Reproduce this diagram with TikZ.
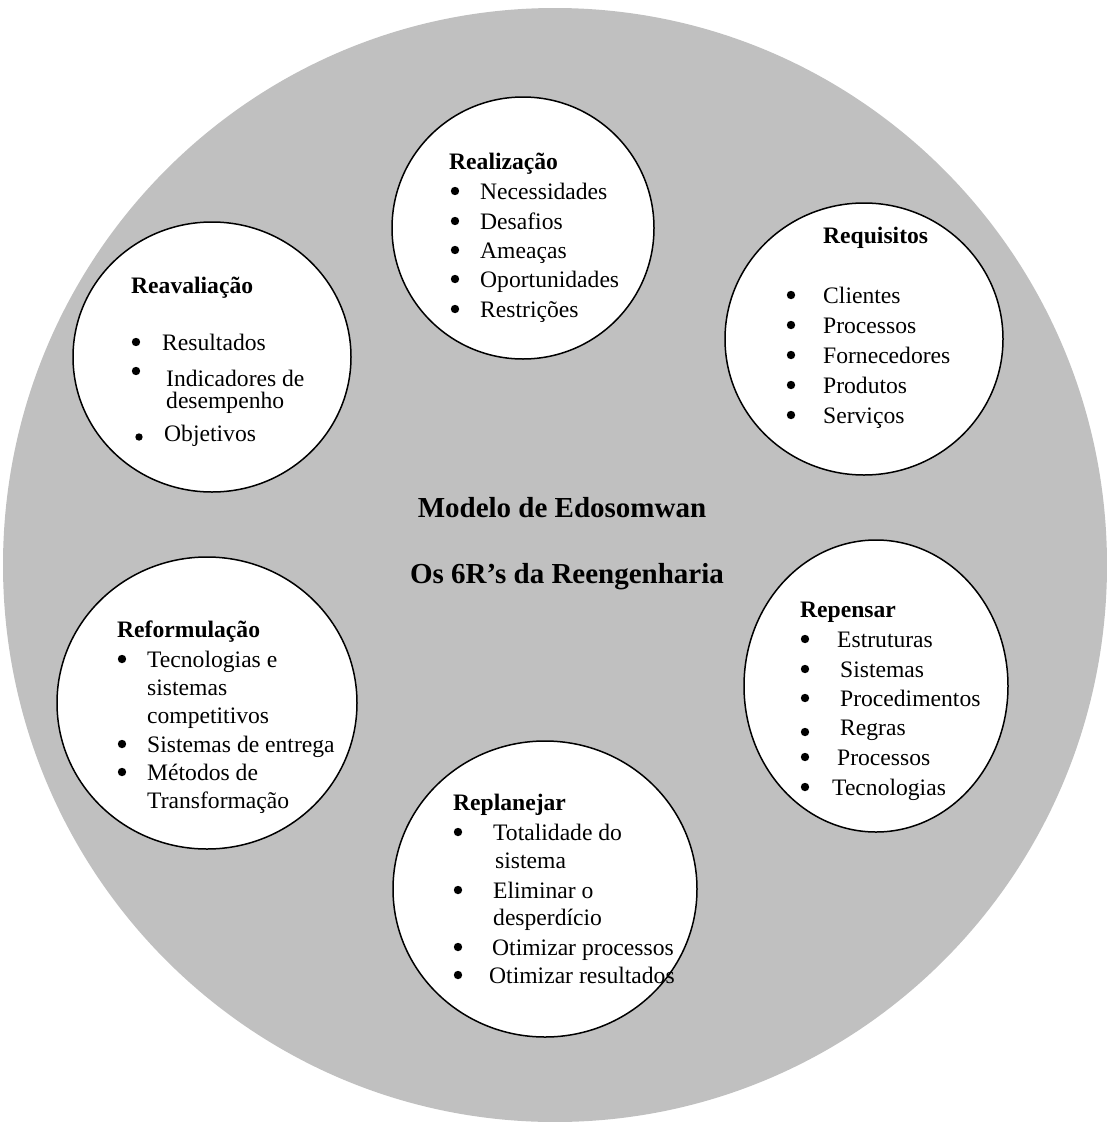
\documentclass[tikz,border=0pt]{standalone}
\usepackage{fontspec}
\setmainfont{Liberation Serif}
\begin{document}
\begin{tikzpicture}[x=1pt,y=-1pt,
  ring/.style={draw=black,line width=1.5pt,fill=white},
  head/.style={anchor=base west,inner sep=0pt,font=\bfseries\fontsize{23.6}{30}\selectfont},
  item/.style={anchor=base west,inner sep=0pt,font=\fontsize{23.6}{30}\selectfont},
  title/.style={anchor=base,inner sep=0pt,font=\bfseries\fontsize{29}{34}\selectfont},
]
\useasboundingbox (0,0) rectangle (1107,1122);
\definecolor{disc}{HTML}{C0C0C0}

% outer disc
\fill[disc] (555,565) ellipse [x radius=552,y radius=557];

% the six circles
\draw[ring] (523,228) ellipse [x radius=131,y radius=131];
\draw[ring] (212,357) ellipse [x radius=139,y radius=135];
\draw[ring] (864,339) ellipse [x radius=139,y radius=136];
\draw[ring] (876,686) ellipse [x radius=132,y radius=146];
\draw[ring] (545,889) ellipse [x radius=152,y radius=148];
\draw[ring] (207,703) ellipse [x radius=150,y radius=146];

% centre title
\node[title] (t1) at (562,517) {Modelo de Edosomwan};
\node[title] (t2) at (567,583) {Os 6R’s da Reengenharia};

% Realizacao
\node[head] (h1) at (449,169) {Realização};
\foreach \y/\t [count=\i] in {199/Necessidades,229/Desafios,258/Ameaças,287/Oportunidades,317/Restrições}{
  \fill (455,\y-8) circle (4.2);
  \node[item] (a\i) at (480,\y) {\t};
}

% Reavaliacao
\node[head] (h2) at (131,293) {Reavaliação};
\fill (136,342) circle (4.2);
\node[item] (b1) at (162,350) {Resultados};
\fill (136,371) circle (4.2);
\node[item] (b2) at (166,386) {Indicadores de};
\node[item] (b3) at (166,408) {desempenho};
\fill (139,437) circle (3.7);
\node[item] (b4) at (164,441) {Objetivos};

% Requisitos
\node[head] (h3) at (823,243) {Requisitos};
\foreach \y/\t [count=\i] in {303/Clientes,333/Processos,363/Fornecedores,393/Produtos,423/Serviços}{
  \fill (791,\y-8) circle (4.2);
  \node[item] (c\i) at (823,\y) {\t};
}

% Repensar
\node[head] (h4) at (800,617) {Repensar};
\foreach \y/\x/\t [count=\i] in {647/837/Estruturas,677/840/Sistemas,706/840/Procedimentos,735/840/Regras,765/837/Processos,795/832/Tecnologias}{
  \node[item] (d\i) at (\x,\y) {\t};
}
\foreach \y in {639,669,698,732,757,787}{\fill (805,\y) circle (4.2);}

% Replanejar
\node[head] (h5) at (453,810) {Replanejar};
\node[item] (e1) at (493,840) {Totalidade do};
\node[item] (e2) at (495,868) {sistema};
\node[item] (e3) at (493,898) {Eliminar o};
\node[item] (e4) at (493,925) {desperdício};
\node[item] (e5) at (492,955) {Otimizar processos};
\node[item] (e6) at (489,983) {Otimizar resultados};
\foreach \y in {832,890,947,975}{\fill (458,\y) circle (4.2);}

% Reformulacao
\node[head] (h6) at (117,637) {Reformulação};
\node[item] (f1) at (147,667) {Tecnologias e};
\node[item] (f2) at (147,695) {sistemas};
\node[item] (f3) at (147,723) {competitivos};
\node[item] (f4) at (147,752) {Sistemas de entrega};
\node[item] (f5) at (147,780) {Métodos de};
\node[item] (f6) at (147,808) {Transformação};
\foreach \y in {659,744,772}{\fill (122,\y) circle (4.2);}
\end{tikzpicture}
\end{document}
